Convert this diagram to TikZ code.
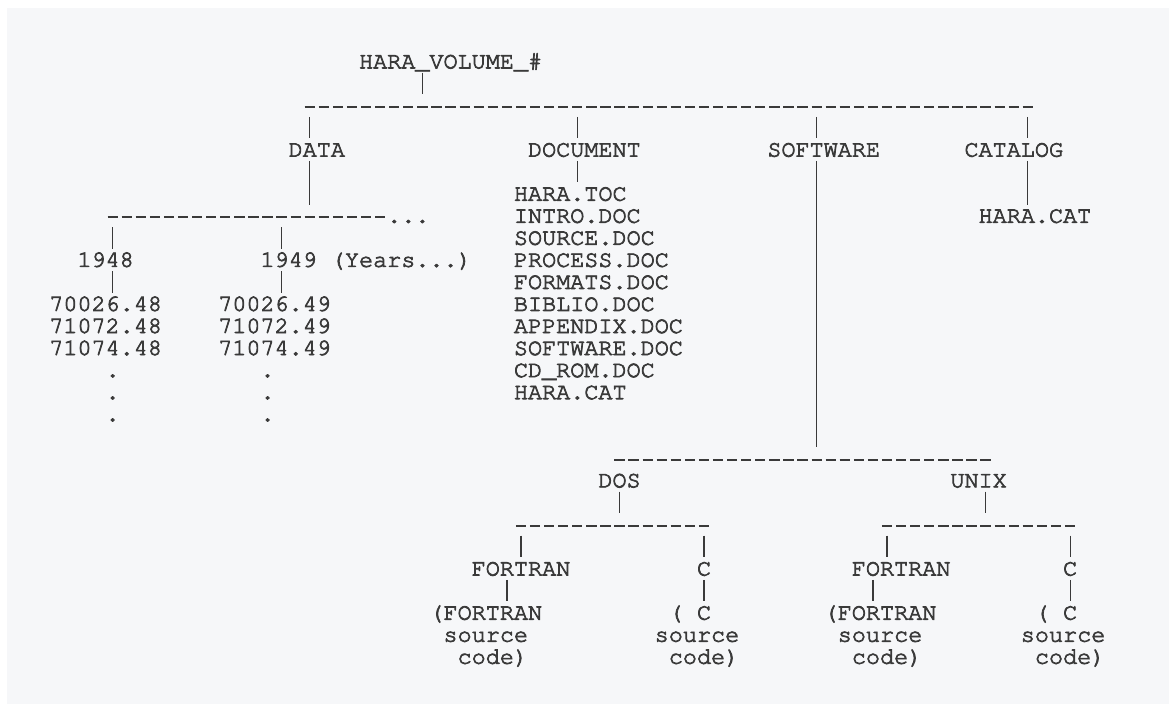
\documentclass[tikz,border=0pt]{standalone}
\usepackage[T1]{fontenc}
\usepackage{courier}
\definecolor{bg}{RGB}{246,247,249}
\definecolor{ink}{RGB}{58,58,58}
\newcommand\cx[1]{(49.3+(#1)*14.08)}
\newcommand\ry[1]{(61.4+(#1)*22.05)}
\newcommand\heavy[1]{\special{pdf:literal direct 2 Tr 0.75 w}#1\special{pdf:literal direct 0 Tr}}
\begin{document}
\begin{tikzpicture}[x=1pt,y=-1pt,
  txt/.style={anchor=base west,inner sep=0pt,outer sep=0pt,text=ink,font=\ttfamily\fontsize{23.47}{22}\selectfont},
  bar/.style={draw=ink,line width=1.2pt},
  dsh/.style={draw=ink,line width=2pt,dash pattern=on 10.28pt off 3.8pt}]
\useasboundingbox (0,0) rectangle (1169,707);
\fill[white] (0,0) rectangle (1169,707);
\fill[bg] (7,8) rectangle (1169,704);
% text macro: name, col, row, text
\newcommand\tx[4]{\node[txt] (#1) at ({\cx{#2}},{\ry{#3}+7}) {\heavy{#4}};}
\newcommand\vb[3]{\draw[bar] ({\cx{#1+0.5}},{\ry{#2}-10.8}) -- ({\cx{#1+0.5}},{\ry{#3}+10.8});}
\newcommand\dl[3]{\draw[dsh] ({\cx{#2}+1.9},{\ry{#1}+1.2}) -- ({\cx{#3+1}-1.9},{\ry{#1}+1.2});}
% top
\tx{root}{22}{0}{HARA\_VOLUME\_\#}
\vb{26}{1}{1}
\dl{2}{18}{69}
\vb{18}{3}{3}\vb{37}{3}{3}\vb{54}{3}{3}\vb{69}{3}{3}
\tx{data}{17}{4}{DATA}
\tx{document}{34}{4}{DOCUMENT}
\tx{software}{51}{4}{SOFTWARE}
\tx{catalog}{65}{4}{CATALOG}
\vb{18}{5}{6}\vb{37}{5}{5}\vb{54}{5}{17}\vb{69}{5}{6}
% document files
\tx{d1}{33}{6}{HARA.TOC}
\tx{d2}{33}{7}{INTRO.DOC}
\tx{d3}{33}{8}{SOURCE.DOC}
\tx{d4}{33}{9}{PROCESS.DOC}
\tx{d5}{33}{10}{FORMATS.DOC}
\tx{d6}{33}{11}{BIBLIO.DOC}
\tx{d7}{33}{12}{APPENDIX.DOC}
\tx{d8}{33}{13}{SOFTWARE.DOC}
\tx{d9}{33}{14}{CD\_ROM.DOC}
\tx{d10}{33}{15}{HARA.CAT}
% catalog
\tx{catfile}{66}{7}{HARA.CAT}
% data years
\dl{7}{4}{23}
\tx{more}{24}{7}{...}
\vb{4}{8}{8}\vb{16}{8}{8}
\tx{y48}{2}{9}{1948}
\tx{y49}{15}{9}{1949}
\tx{years}{20}{9}{(Years...)}
\vb{4}{10}{10}\vb{16}{10}{10}
\tx{a1}{0}{11}{70026.48}
\tx{a2}{0}{12}{71072.48}
\tx{a3}{0}{13}{71074.48}
\tx{b1}{12}{11}{70026.49}
\tx{b2}{12}{12}{71072.49}
\tx{b3}{12}{13}{71074.49}
\tx{ad1}{4}{14}{.}\tx{ad2}{4}{15}{.}\tx{ad3}{4}{16}{.}
\tx{bd1}{15}{14}{.}\tx{bd2}{15}{15}{.}\tx{bd3}{15}{16}{.}
% software
\dl{18}{40}{66}
\tx{dos}{39}{19}{DOS}
\tx{unix}{64}{19}{UNIX}
\vb{40}{20}{20}\vb{66}{20}{20}
\dl{21}{33}{46}\dl{21}{59}{72}
\vb{33}{22}{22}\vb{46}{22}{22}\vb{59}{22}{22}\vb{72}{22}{22}
\tx{df}{30}{23}{FORTRAN}
\tx{dc}{46}{23}{C}
\tx{uf}{57}{23}{FORTRAN}
\tx{uc}{72}{23}{C}
\vb{32}{24}{24}\vb{46}{24}{24}\vb{58}{24}{24}\vb{72}{24}{24}
\tx{dfs1}{27}{25}{(FORTRAN}
\tx{dfs2}{28}{26}{source}
\tx{dfs3}{29}{27}{code)}
\tx{dcs0}{44}{25}{(}
\tx{dcs1}{46}{25}{C}
\tx{dcs2}{43}{26}{source}
\tx{dcs3}{44}{27}{code)}
\tx{ufs1}{55}{25}{(FORTRAN}
\tx{ufs2}{56}{26}{source}
\tx{ufs3}{57}{27}{code)}
\tx{ucs0}{70}{25}{(}
\tx{ucs1}{72}{25}{C}
\tx{ucs2}{69}{26}{source}
\tx{ucs3}{70}{27}{code)}
\end{tikzpicture}
\end{document}
